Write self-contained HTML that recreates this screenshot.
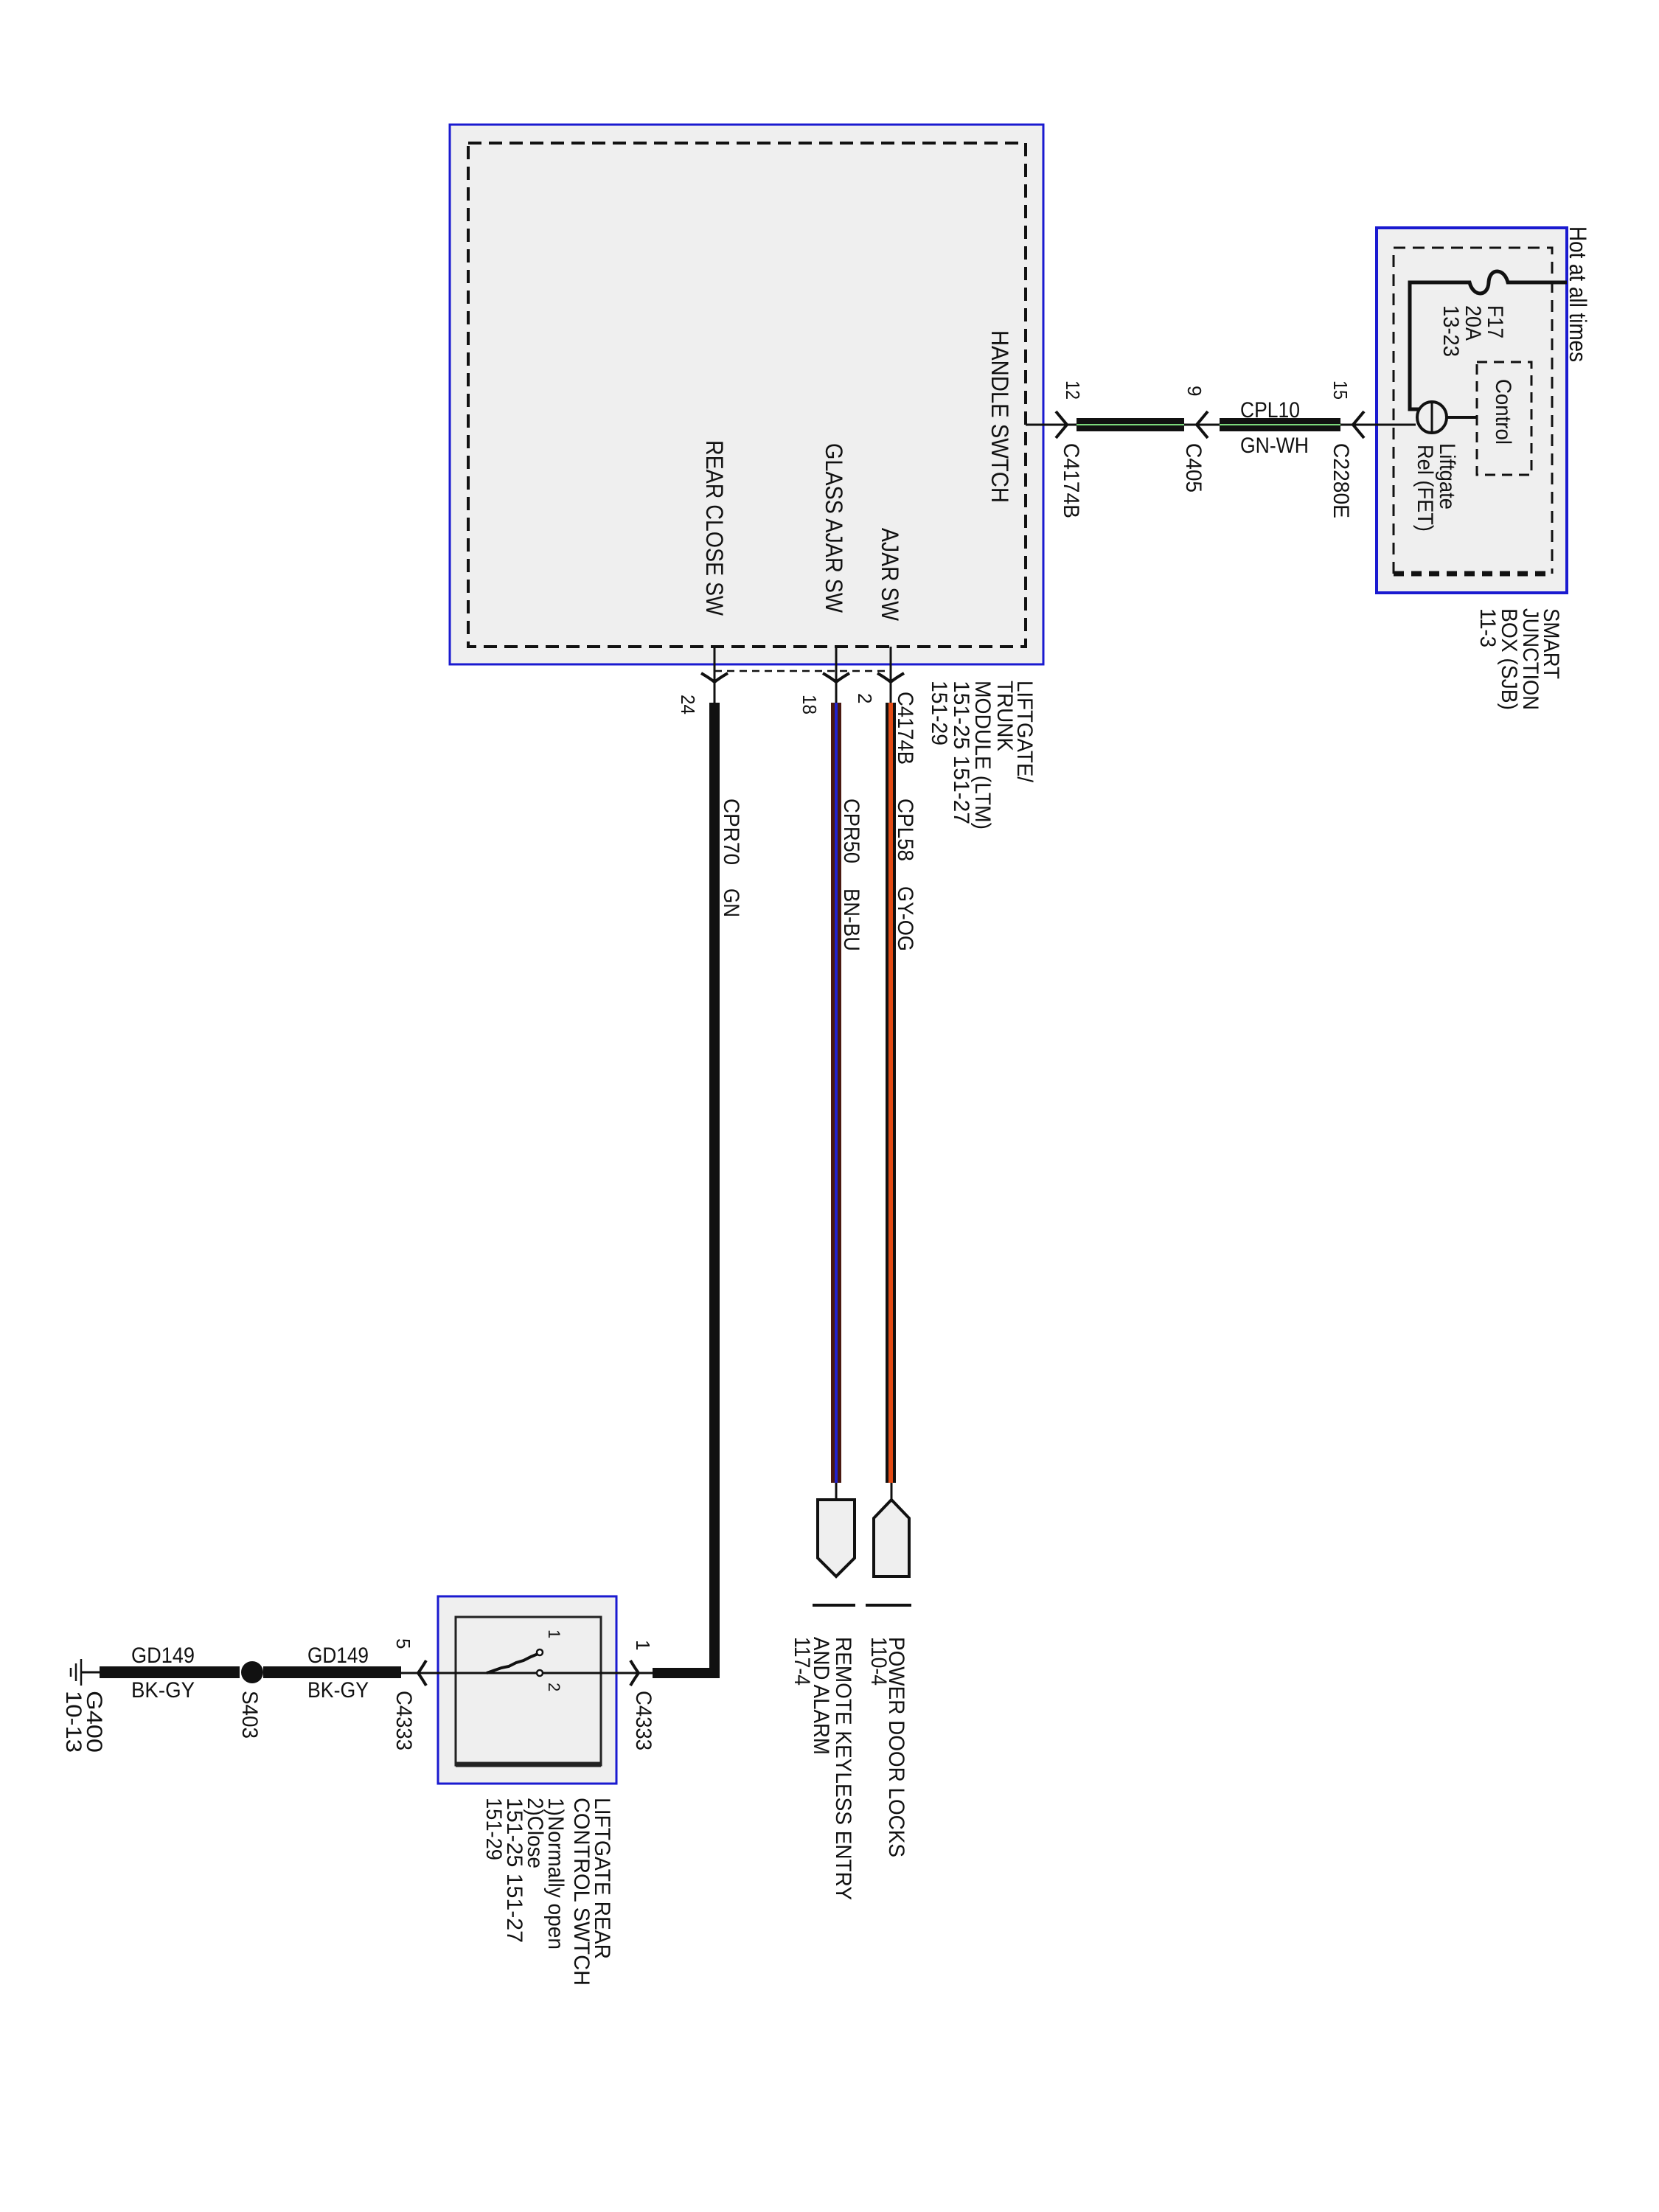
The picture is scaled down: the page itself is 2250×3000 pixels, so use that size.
<!DOCTYPE html>
<html><head><meta charset="utf-8"><style>
html,body{margin:0;padding:0;background:#fff;}
svg{display:block;}
text{font-family:"Liberation Sans",Arial,sans-serif;fill:#111;}
</style></head><body>
<svg width="2250" height="3000" viewBox="0 0 2250 3000" xmlns="http://www.w3.org/2000/svg">
<!-- LTM box -->
<rect x="610" y="169" width="805" height="732" fill="#efefef" stroke="#1a1ad0" stroke-width="3"/>
<rect x="635" y="194" width="756" height="683" fill="none" stroke="#111" stroke-width="4" stroke-dasharray="18 10"/>
<!-- SJB box -->
<rect x="1867" y="309" width="258" height="495" fill="#efefef" stroke="#1a1ad0" stroke-width="4"/>
<path d="M1890,778 V336 H2105 V778" fill="none" stroke="#111" stroke-width="3" stroke-dasharray="16 10"/>
<line x1="1890" y1="778" x2="2105" y2="778" stroke="#111" stroke-width="7" stroke-dasharray="14 10"/>
<rect x="2003" y="491" width="74" height="153" fill="none" stroke="#111" stroke-width="3" stroke-dasharray="14 9"/>
<!-- hot wire + fuse -->
<path d="M2125,383 H2045 C2040,363 2020,363 2019,383 C2018,403 1998,403 1993,383 H1912 V555 H1925" fill="none" stroke="#111" stroke-width="5"/>
<ellipse cx="1942" cy="566" rx="20" ry="21" fill="none" stroke="#111" stroke-width="4"/>
<line x1="1942" y1="545" x2="1942" y2="587" stroke="#111" stroke-width="3"/>
<line x1="1962" y1="566" x2="2003" y2="566" stroke="#111" stroke-width="4"/>
<!-- main right wire -->
<line x1="1391" y1="576" x2="1920" y2="576" stroke="#111" stroke-width="3"/>
<rect x="1460" y="567" width="146" height="18" fill="#111"/>
<line x1="1460" y1="576" x2="1606" y2="576" stroke="#7bd87b" stroke-width="2"/>
<rect x="1654" y="567" width="164" height="18" fill="#111"/>
<line x1="1654" y1="576" x2="1818" y2="576" stroke="#7bd87b" stroke-width="2"/>
<!-- chevrons on right wire -->
<g fill="none" stroke="#111" stroke-width="4">
<path d="M1432,558 Q1442,570 1447,576 Q1442,582 1432,594"/>
<path d="M1638,558 Q1628,570 1623,576 Q1628,582 1638,594"/>
<path d="M1850,558 Q1840,570 1835,576 Q1840,582 1850,594"/>
<!-- bottom connectors pointing down -->
<path d="M951,913 Q963,920 969,925 Q975,920 987,913"/>
<path d="M1116,913 Q1128,920 1134,925 Q1140,920 1152,913"/>
<path d="M1190,913 Q1202,920 1208,925 Q1214,920 1226,913"/>
<!-- switch connectors -->
<path d="M855,2252 Q861,2262 866,2269 Q861,2276 855,2286"/>
<path d="M578,2252 Q572,2262 567,2269 Q572,2276 578,2286"/>
</g>
<line x1="969" y1="910" x2="1208" y2="910" stroke="#111" stroke-width="2.5" stroke-dasharray="10 7"/>
<!-- vertical wires -->
<g stroke="#111" stroke-width="3">
<line x1="969" y1="877" x2="969" y2="953"/>
<line x1="1134" y1="877" x2="1134" y2="953"/>
<line x1="1208" y1="877" x2="1208" y2="953"/>
<line x1="1134" y1="2010" x2="1134" y2="2034"/>
<line x1="1209" y1="2010" x2="1209" y2="2034"/>
</g>
<path d="M969,953 V2269 H885" fill="none" stroke="#111" stroke-width="14"/>
<rect x="1127" y="953" width="14" height="1058" fill="#4a1810"/>
<rect x="1132" y="953" width="4" height="1058" fill="#2222cc"/>
<rect x="1201" y="953" width="14" height="1058" fill="#111"/>
<rect x="1205" y="953" width="6" height="1058" fill="#e24a14"/>
<!-- end shapes -->
<path d="M1109,2034 H1159 V2113 L1134,2138 L1109,2113 Z" fill="#efefef" stroke="#111" stroke-width="4"/>
<path d="M1185,2138 V2059 L1209,2034 L1233,2059 V2138 Z" fill="#efefef" stroke="#111" stroke-width="4"/>
<line x1="1102" y1="2177" x2="1160" y2="2177" stroke="#111" stroke-width="4"/>
<line x1="1174" y1="2177" x2="1236" y2="2177" stroke="#111" stroke-width="4"/>
<!-- switch -->
<rect x="594" y="2165" width="242" height="254" fill="#efefef" stroke="#1a1ad0" stroke-width="3"/>
<rect x="618" y="2193" width="197" height="201" fill="none" stroke="#222" stroke-width="3"/>
<line x1="618" y1="2393" x2="815" y2="2393" stroke="#222" stroke-width="7"/>
<line x1="544" y1="2269" x2="885" y2="2269" stroke="#111" stroke-width="3"/>
<path d="M660,2269 L680,2262 L690,2260 L700,2255 L710,2252 L720,2247 L732,2242" fill="none" stroke="#111" stroke-width="4"/>
<circle cx="732" cy="2241" r="4" fill="#fff" stroke="#111" stroke-width="2.5"/>
<circle cx="732" cy="2269" r="4" fill="#fff" stroke="#111" stroke-width="2.5"/>
<!-- ground wires -->
<rect x="357" y="2260" width="187" height="16" fill="#111"/>
<rect x="135" y="2260" width="190" height="16" fill="#111"/>
<circle cx="342" cy="2268" r="15" fill="#111"/>
<line x1="110" y1="2268" x2="135" y2="2268" stroke="#111" stroke-width="3"/>
<g stroke="#111" stroke-width="2.5">
<line x1="110" y1="2250" x2="110" y2="2286"/>
<line x1="103" y1="2256" x2="103" y2="2280"/>
<line x1="96" y1="2262" x2="96" y2="2274"/>
</g>
<!-- horizontal texts -->
<text x="1682" y="566" font-size="30" textLength="81" lengthAdjust="spacingAndGlyphs">CPL10</text>
<text x="1682" y="614" font-size="30" textLength="93" lengthAdjust="spacingAndGlyphs">GN-WH</text>
<text x="417" y="2255" font-size="30" textLength="83" lengthAdjust="spacingAndGlyphs">GD149</text>
<text x="417" y="2302" font-size="30" textLength="83" lengthAdjust="spacingAndGlyphs">BK-GY</text>
<text x="178" y="2255" font-size="30" textLength="86" lengthAdjust="spacingAndGlyphs">GD149</text>
<text x="178" y="2302" font-size="30" textLength="86" lengthAdjust="spacingAndGlyphs">BK-GY</text>
<!-- vertical texts (rotate 90) -->
<g font-size="32">
<text transform="translate(1345,448) rotate(90)" textLength="234" lengthAdjust="spacingAndGlyphs">HANDLE SWTCH</text>
<text transform="translate(1196,716) rotate(90)" textLength="126" lengthAdjust="spacingAndGlyphs">AJAR SW</text>
<text transform="translate(1120,601) rotate(90)" textLength="230" lengthAdjust="spacingAndGlyphs">GLASS AJAR SW</text>
<text transform="translate(958,597) rotate(90)" textLength="238" lengthAdjust="spacingAndGlyphs">REAR CLOSE SW</text>
<text transform="translate(2129,307) rotate(90)" textLength="184" lengthAdjust="spacingAndGlyphs">Hot at all times</text>
</g>
<g font-size="30">
<text transform="translate(1218,938) rotate(90)" textLength="99" lengthAdjust="spacingAndGlyphs">C4174B</text>
<text transform="translate(1218,1083) rotate(90)" textLength="85" lengthAdjust="spacingAndGlyphs">CPL58</text>
<text transform="translate(1218,1202) rotate(90)" textLength="88" lengthAdjust="spacingAndGlyphs">GY-OG</text>
<text transform="translate(1145,1083) rotate(90)" textLength="88" lengthAdjust="spacingAndGlyphs">CPR50</text>
<text transform="translate(1145,1205) rotate(90)" textLength="85" lengthAdjust="spacingAndGlyphs">BN-BU</text>
<text transform="translate(982,1083) rotate(90)" textLength="90" lengthAdjust="spacingAndGlyphs">CPR70</text>
<text transform="translate(982,1205) rotate(90)" textLength="39" lengthAdjust="spacingAndGlyphs">GN</text>
<text transform="translate(1380,923) rotate(90)" textLength="138" lengthAdjust="spacingAndGlyphs">LIFTGATE/</text>
<text transform="translate(1353,923) rotate(90)" textLength="96" lengthAdjust="spacingAndGlyphs">TRUNK</text>
<text transform="translate(1323,923) rotate(90)" textLength="202" lengthAdjust="spacingAndGlyphs">MODULE (LTM)</text>
<text transform="translate(1294,923) rotate(90)" textLength="195" lengthAdjust="spacingAndGlyphs">151-25  151-27</text>
<text transform="translate(1264,923) rotate(90)" textLength="88" lengthAdjust="spacingAndGlyphs">151-29</text>
<text transform="translate(1443,601) rotate(90)" textLength="102" lengthAdjust="spacingAndGlyphs">C4174B</text>
<text transform="translate(1609,601) rotate(90)" textLength="67" lengthAdjust="spacingAndGlyphs">C405</text>
<text transform="translate(1809,601) rotate(90)" textLength="102" lengthAdjust="spacingAndGlyphs">C2280E</text>
<text transform="translate(2018,414) rotate(90)" textLength="45" lengthAdjust="spacingAndGlyphs">F17</text>
<text transform="translate(1988,414) rotate(90)" textLength="48" lengthAdjust="spacingAndGlyphs">20A</text>
<text transform="translate(1958,414) rotate(90)" textLength="70" lengthAdjust="spacingAndGlyphs">13-23</text>
<text transform="translate(2029,514) rotate(90)" textLength="89" lengthAdjust="spacingAndGlyphs">Control</text>
<text transform="translate(1953,601) rotate(90)" textLength="90" lengthAdjust="spacingAndGlyphs">Liftgate</text>
<text transform="translate(1923,603) rotate(90)" textLength="118" lengthAdjust="spacingAndGlyphs">Rel (FET)</text>
<text transform="translate(2094,825) rotate(90)" textLength="96" lengthAdjust="spacingAndGlyphs">SMART</text>
<text transform="translate(2066,825) rotate(90)" textLength="138" lengthAdjust="spacingAndGlyphs">JUNCTION</text>
<text transform="translate(2037,825) rotate(90)" textLength="138" lengthAdjust="spacingAndGlyphs">BOX (SJB)</text>
<text transform="translate(2008,825) rotate(90)" textLength="53" lengthAdjust="spacingAndGlyphs">11-3</text>
<text transform="translate(1206,2220) rotate(90)" textLength="299" lengthAdjust="spacingAndGlyphs">POWER DOOR LOCKS</text>
<text transform="translate(1182,2220) rotate(90)" textLength="66" lengthAdjust="spacingAndGlyphs">110-4</text>
<text transform="translate(1134,2220) rotate(90)" textLength="357" lengthAdjust="spacingAndGlyphs">REMOTE KEYLESS ENTRY</text>
<text transform="translate(1104,2220) rotate(90)" textLength="160" lengthAdjust="spacingAndGlyphs">AND ALARM</text>
<text transform="translate(1078,2220) rotate(90)" textLength="66" lengthAdjust="spacingAndGlyphs">117-4</text>
<text transform="translate(863,2293) rotate(90)" textLength="81" lengthAdjust="spacingAndGlyphs">C4333</text>
<text transform="translate(538,2293) rotate(90)" textLength="81" lengthAdjust="spacingAndGlyphs">C4333</text>
<text transform="translate(329,2293) rotate(90)" textLength="65" lengthAdjust="spacingAndGlyphs">S403</text>
<text transform="translate(118,2293) rotate(90)" textLength="84" lengthAdjust="spacingAndGlyphs">G400</text>
<text transform="translate(90,2293) rotate(90)" textLength="84" lengthAdjust="spacingAndGlyphs">10-13</text>
<text transform="translate(807,2438) rotate(90)" textLength="219" lengthAdjust="spacingAndGlyphs">LIFTGATE REAR</text>
<text transform="translate(779,2438) rotate(90)" textLength="255" lengthAdjust="spacingAndGlyphs">CONTROL SWTCH</text>
<text transform="translate(744,2438) rotate(90)" textLength="206" lengthAdjust="spacingAndGlyphs">1)Normally open</text>
<text transform="translate(716,2438) rotate(90)" textLength="96" lengthAdjust="spacingAndGlyphs">2)Close</text>
<text transform="translate(688,2438) rotate(90)" textLength="197" lengthAdjust="spacingAndGlyphs">151-25    151-27</text>
<text transform="translate(660,2438) rotate(90)" textLength="85" lengthAdjust="spacingAndGlyphs">151-29</text>
</g>
<g font-size="26">
<text transform="translate(924,942) rotate(90)" textLength="27" lengthAdjust="spacingAndGlyphs">24</text>
<text transform="translate(1089,942) rotate(90)" textLength="27" lengthAdjust="spacingAndGlyphs">18</text>
<text transform="translate(1164,940)  rotate(90)">2</text>
<text transform="translate(1446,516) rotate(90)" textLength="26" lengthAdjust="spacingAndGlyphs">12</text>
<text transform="translate(1611,523) rotate(90)">9</text>
<text transform="translate(1809,516) rotate(90)" textLength="26" lengthAdjust="spacingAndGlyphs">15</text>
<text transform="translate(863,2224) rotate(90)">1</text>
<text transform="translate(538,2222) rotate(90)">5</text>
<text transform="translate(744,2210) rotate(90)" font-size="22">1</text>
<text transform="translate(744,2282) rotate(90)" font-size="22">2</text>
</g>
</svg>
</body></html>
